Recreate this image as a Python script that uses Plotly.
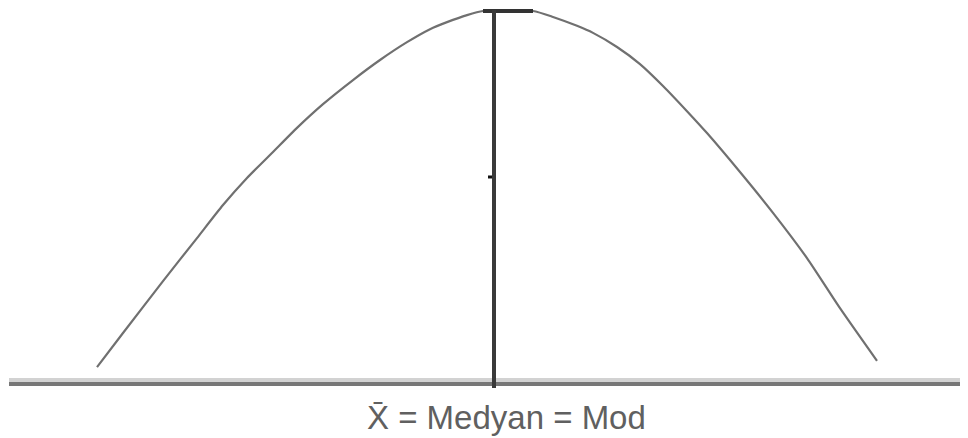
import plotly.graph_objects as go

# Curve (x in units from the centre, y relative height, peak = 1)
curve_x = [-3.97, -3.71, -3.31, -2.97, -2.71, -2.47, -2.21, -1.97, -1.71, -1.41, -1.14, -0.87, -0.64, -0.47,
           -0.27, -0.11, 0.39, 0.59, 0.83, 0.99, 1.23, 1.46, 1.69, 1.93, 2.13, 2.46, 2.79, 3.13, 3.46, 3.83]
curve_y = [0.040, 0.132, 0.272, 0.388, 0.477, 0.550, 0.620, 0.685, 0.749, 0.814, 0.868, 0.916, 0.951, 0.970,
           0.989, 1.0, 1.0, 0.984, 0.960, 0.941, 0.903, 0.857, 0.798, 0.730, 0.671, 0.566, 0.456, 0.334, 0.199, 0.057]
peak_x = [-0.11, 0.39]
peak_y = [1.0, 1.0]
centre_x = 0.0
centre_top = 1.003
centre_bottom = -0.016
mid_mark_y = 0.5526
baseline_x = [-4.85, 4.85]
label_text = "X\u0304 = Medyan = Mod"

fig = go.Figure()

# baseline (light top band, dark bottom band)
fig.add_trace(go.Scatter(x=baseline_x, y=[0.0054, 0.0054], mode="lines",
                         line=dict(color="#d2d2d2", width=4), hoverinfo="skip"))
fig.add_trace(go.Scatter(x=baseline_x, y=[-0.0054, -0.0054], mode="lines",
                         line=dict(color="#777777", width=4), hoverinfo="skip"))

# bell curve
fig.add_trace(go.Scatter(x=curve_x, y=curve_y, mode="lines",
                         line=dict(color="#707070", width=2.2, shape="spline", smoothing=0.6),
                         hoverinfo="skip"))
# dark top segment
fig.add_trace(go.Scatter(x=peak_x, y=peak_y, mode="lines",
                         line=dict(color="#333333", width=4), hoverinfo="skip"))
# centre vertical line
fig.add_trace(go.Scatter(x=[centre_x, centre_x], y=[centre_bottom, centre_top], mode="lines",
                         line=dict(color="#3a3a3a", width=4), hoverinfo="skip"))
# small mark at half height
fig.add_trace(go.Scatter(x=[-0.06, -0.02], y=[mid_mark_y, mid_mark_y], mode="lines",
                         line=dict(color="#111111", width=3), hoverinfo="skip"))

fig.add_annotation(x=0.12, y=-0.097, text=label_text, showarrow=False,
                   xanchor="center", yanchor="middle",
                   font=dict(family="Liberation Sans, Arial, sans-serif", size=33, color="#606060"))

# ranges compensate for the page's 8px body margin
fig.update_layout(
    width=968, height=438,
    margin=dict(l=0, r=0, t=0, b=0),
    paper_bgcolor="white", plot_bgcolor="white",
    showlegend=False,
    xaxis=dict(range=[-4.86, 4.82], visible=False, fixedrange=True),
    yaxis=dict(range=[-0.1725, 1.0081], visible=False, fixedrange=True),
)

fig.write_html("out.html")
